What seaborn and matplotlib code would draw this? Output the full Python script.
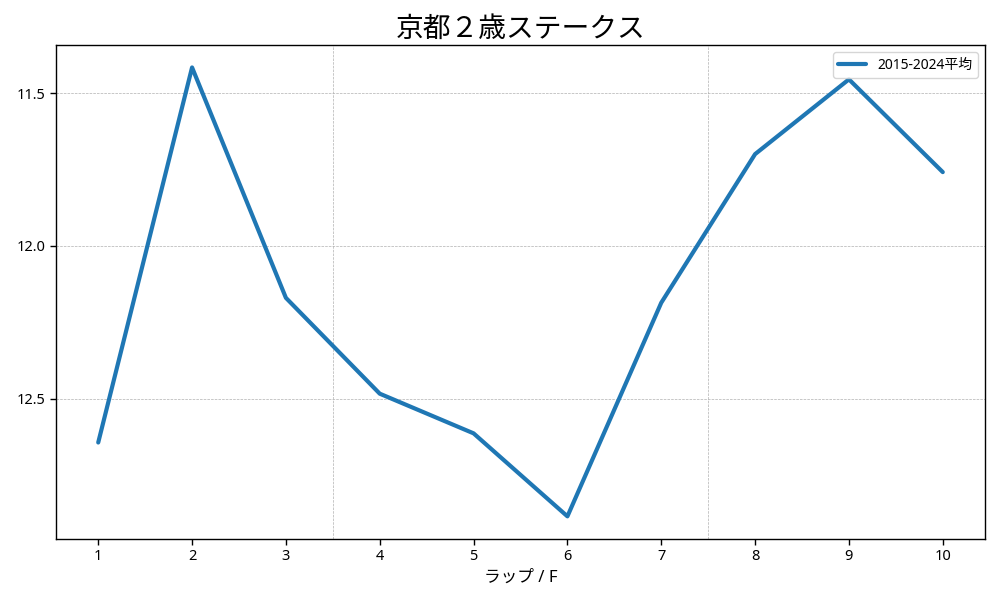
import pandas as pd
import seaborn as sns
import matplotlib.pyplot as plt

sns.set_style('white')
plt.rcParams['font.family'] = ['Noto Sans', 'Noto Sans CJK JP', 'DejaVu Sans']
plt.rcParams['text.color'] = 'black'
plt.rcParams['axes.labelcolor'] = 'black'
plt.rcParams['xtick.color'] = 'black'
plt.rcParams['ytick.color'] = 'black'

laps = [1, 2, 3, 4, 5, 6, 7, 8, 9, 10]
avg_time = [12.644, 11.415, 12.170, 12.484, 12.614, 12.886, 12.186, 11.699, 11.454, 11.758]
label = '2015-2024平均'

data = pd.DataFrame({'lap': laps, 'time': avg_time})

fig, ax = plt.subplots(figsize=(10, 6), dpi=100)
sns.lineplot(x='lap', y='time', data=data, ax=ax, linewidth=3, color='#1f77b4', label=label)

ax.invert_yaxis()
ax.set_xticks(laps)
ax.set_yticks([11.5, 12.0, 12.5])
ax.set_yticklabels(['11.5', '12.0', '12.5'])
ax.grid(axis='y', linestyle='--', linewidth=0.5, color='#b0b0b0')
for x in [3.5, 7.5]:
    ax.axvline(x, linestyle='--', linewidth=0.5, color='#b0b0b0', zorder=0)

for s in ax.spines.values():
    s.set_color('black')
    s.set_linewidth(1)
ax.tick_params(axis='both', direction='out', length=4, width=1, color='black', labelsize=10.5,
               left=True, bottom=True)

ax.set_title('京都２歳ステークス', fontsize=20)
ax.set_xlabel('ラップ / F', fontsize=12)
ax.set_ylabel('')
ax.legend(loc='upper right', fontsize=10)

plt.subplots_adjust(left=0.056, right=0.985, top=0.925, bottom=0.102)
plt.savefig('out.png')
